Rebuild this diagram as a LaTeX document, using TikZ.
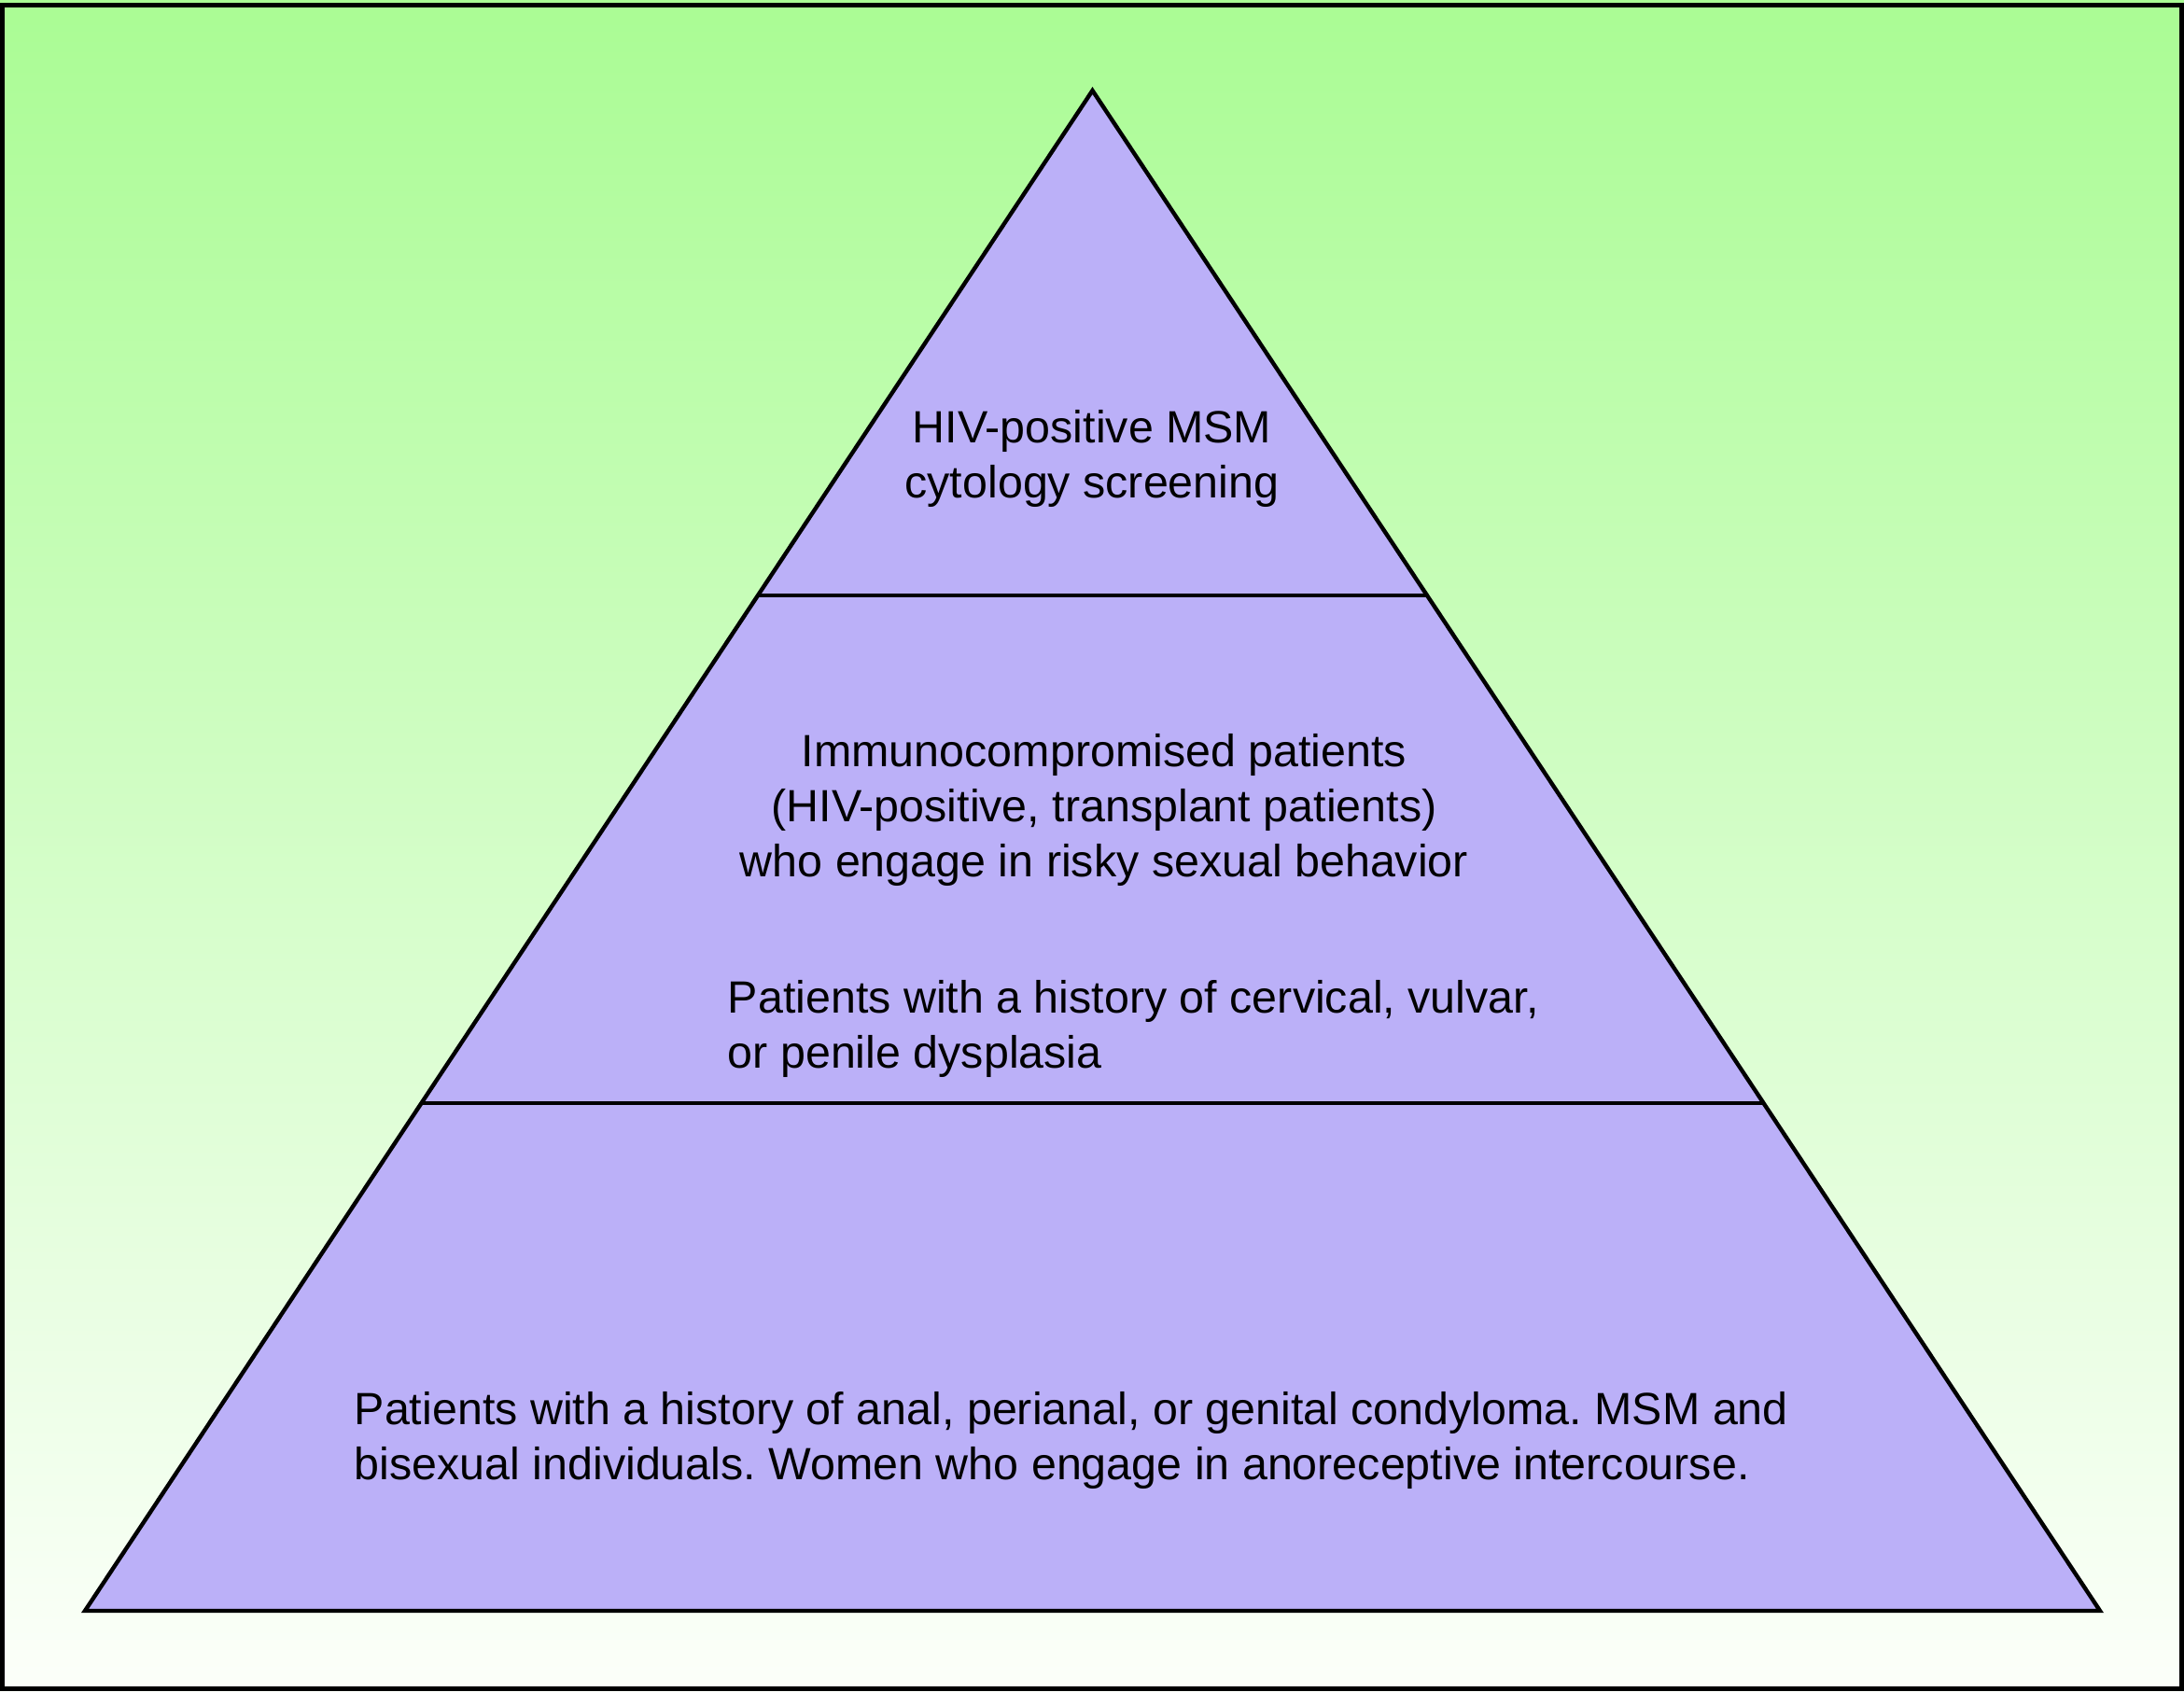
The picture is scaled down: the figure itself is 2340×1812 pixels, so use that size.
\documentclass[tikz,border=0pt]{standalone}
\usepackage{fontspec}
\setmainfont{Liberation Sans}
\usetikzlibrary{calc}
\frenchspacing
\definecolor{bggreen}{RGB}{170,252,148}
\definecolor{bgwhite}{RGB}{252,255,250}
\definecolor{lav}{RGB}{187,176,248}
\tikzset{
  txt/.style={inner sep=0pt, font=\fontsize{12.1}{14.7}\selectfont, text=black},
  tier/.style={line width=1pt},
}
\begin{document}
\begin{tikzpicture}[x=0.25pt,y=-0.25pt]
\useasboundingbox (0,0) rectangle (2340,1812);
\shade[top color=bggreen, bottom color=bgwhite] (0,0) rectangle (2340,1812);
\draw[line width=1.15pt] (2.3,5.3) rectangle (2337.7,1809.7);
\coordinate (apex) at (1170.5,97);
\coordinate (bl) at (91,1726);
\coordinate (br) at (2250,1726);
\draw[fill=lav, line width=1.1pt, line join=miter] (apex) -- (bl) -- (br) -- cycle;
\coordinate (l1) at ($(apex)!0.3321!(bl)$);
\coordinate (r1) at ($(apex)!0.3321!(br)$);
\coordinate (l2) at ($(apex)!0.6661!(bl)$);
\coordinate (r2) at ($(apex)!0.6661!(br)$);
\draw[tier] (l1) -- (r1);
\draw[tier] (l2) -- (r2);
\node[txt, anchor=base, align=center] (top) at (1170,533) {HIV-positive MSM\\cytology screening};
\node[txt, anchor=base, align=center] (mid) at (1183,939) {Immunocompromised patients\\(HIV-positive, transplant patients)\\who engage in risky sexual behavior};
\node[txt, anchor=base west, align=left] (hist) at (779,1144) {Patients with a history of cervical, vulvar,\\or penile dysplasia};
\node[txt, anchor=base west, align=left] (wide) at (379,1585) {Patients with a history of anal, perianal, or genital condyloma. MSM and\\bisexual individuals. Women who engage in anoreceptive intercourse.};
\end{tikzpicture}
\end{document}
